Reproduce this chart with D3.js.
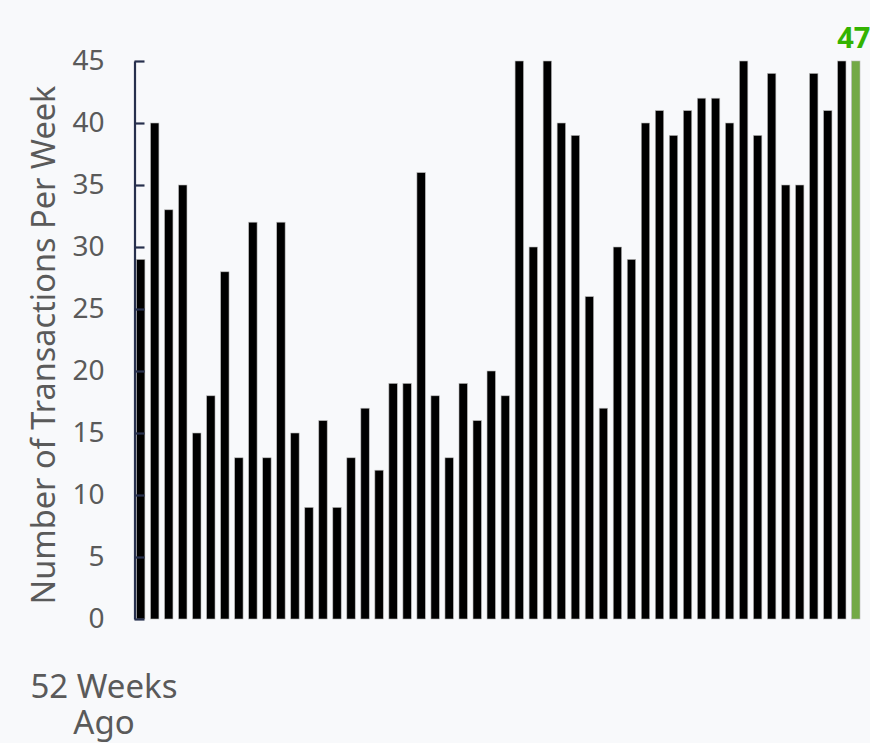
<!DOCTYPE html>
<html>
<head>
<meta charset="utf-8">
<script src="https://cdn.jsdelivr.net/npm/d3@7"></script>
<style>
  html, body { margin: 0; padding: 0; background: #f8f9fb; }
  svg { display: block; font-family: "Noto Sans", sans-serif; }
</style>
</head>
<body>
<script>
// weekly transaction counts, oldest first (52 weeks)
const weeks = d3.range(1, 53);
const counts = [29, 40, 33, 35, 15, 18, 28, 13, 32, 13, 32, 15, 9, 16, 9, 13, 17, 12, 19, 19,
                36, 18, 13, 19, 16, 20, 18, 46, 30, 46, 40, 39, 26, 17, 30, 29, 40, 41, 39, 41,
                42, 42, 40, 46, 39, 44, 35, 35, 44, 41, 46, 47];
const yTicks = [0, 5, 10, 15, 20, 25, 30, 35, 40, 45];
const yTitle = 'Number of Transactions Per Week';
const startLabel = ['52 Weeks', 'Ago'];

// svg dimensions
const w = 870
const h = 743

// plot area
const plotLeft = 134.5
const plotRight = 860
const plotTop = 61
const plotBottom = 619

const data = weeks.map((wk, i) => ({ week: wk, cnt: counts[i] }));
const current = data[data.length - 1];

const x = d3.scaleBand()
    .domain(weeks)
    .range([plotLeft + 2, plotRight])
    .paddingInner(0.4)
    .paddingOuter(0);

const y = d3.scaleLinear()
    .domain([0, 45])
    .range([plotBottom, plotTop])
    .clamp(true);

const svg = d3.select('body')
    .append('svg')
    .attr('width', w)
    .attr('height', h);

svg.append('rect')
    .attr('width', w)
    .attr('height', h)
    .attr('fill', '#f8f9fb');

svg.selectAll('rect.bar')
    .data(data)
    .enter()
    .append('rect')
    .attr('class', 'bar')
    .attr('x', d => x(d.week))
    .attr('y', d => y(d.cnt))
    .attr('width', x.bandwidth())
    .attr('height', d => plotBottom - y(d.cnt))
    .attr('fill', d => d === current ? '#73a947' : '#000')
    .attr('stroke', '#b8b8b8')
    .attr('stroke-width', 0.6);

// y axis with ticks pointing into the plot
const yAxis = svg.append('g')
    .attr('transform', `translate(${plotLeft},0)`)
    .call(d3.axisLeft(y).tickValues(yTicks).tickSizeInner(-10).tickSizeOuter(0).tickPadding(30));

yAxis.select('.domain')
    .attr('stroke', '#27304d')
    .attr('stroke-width', 2.2);
yAxis.selectAll('.tick line')
    .attr('stroke', '#27304d')
    .attr('stroke-width', 2.2);
yAxis.selectAll('.tick text')
    .attr('fill', '#5a5a5a')
    .style('font-size', '28px')
    .style('font-family', '"Noto Sans", sans-serif');

svg.append('text')
    .attr('transform', `translate(42,345) rotate(-90)`)
    .attr('text-anchor', 'middle')
    .attr('dominant-baseline', 'central')
    .attr('fill', '#5a5a5a')
    .style('font-size', '32.5px')
    .text(yTitle);

// label of the current week
svg.append('text')
    .attr('x', x(current.week) + x.bandwidth() / 2 - 2)
    .attr('y', y(45) - 13)
    .attr('text-anchor', 'middle')
    .attr('fill', '#33b300')
    .style('font-size', '29px')
    .style('font-weight', 'bold')
    .text(current.cnt);

// "52 Weeks Ago" under the first bar
svg.selectAll('text.start')
    .data(startLabel)
    .enter()
    .append('text')
    .attr('class', 'start')
    .attr('x', 104)
    .attr('y', (d, i) => 698 + i * 36)
    .attr('text-anchor', 'middle')
    .attr('fill', '#5a5a5a')
    .style('font-size', '33px')
    .text(d => d);
</script>
</body>
</html>
